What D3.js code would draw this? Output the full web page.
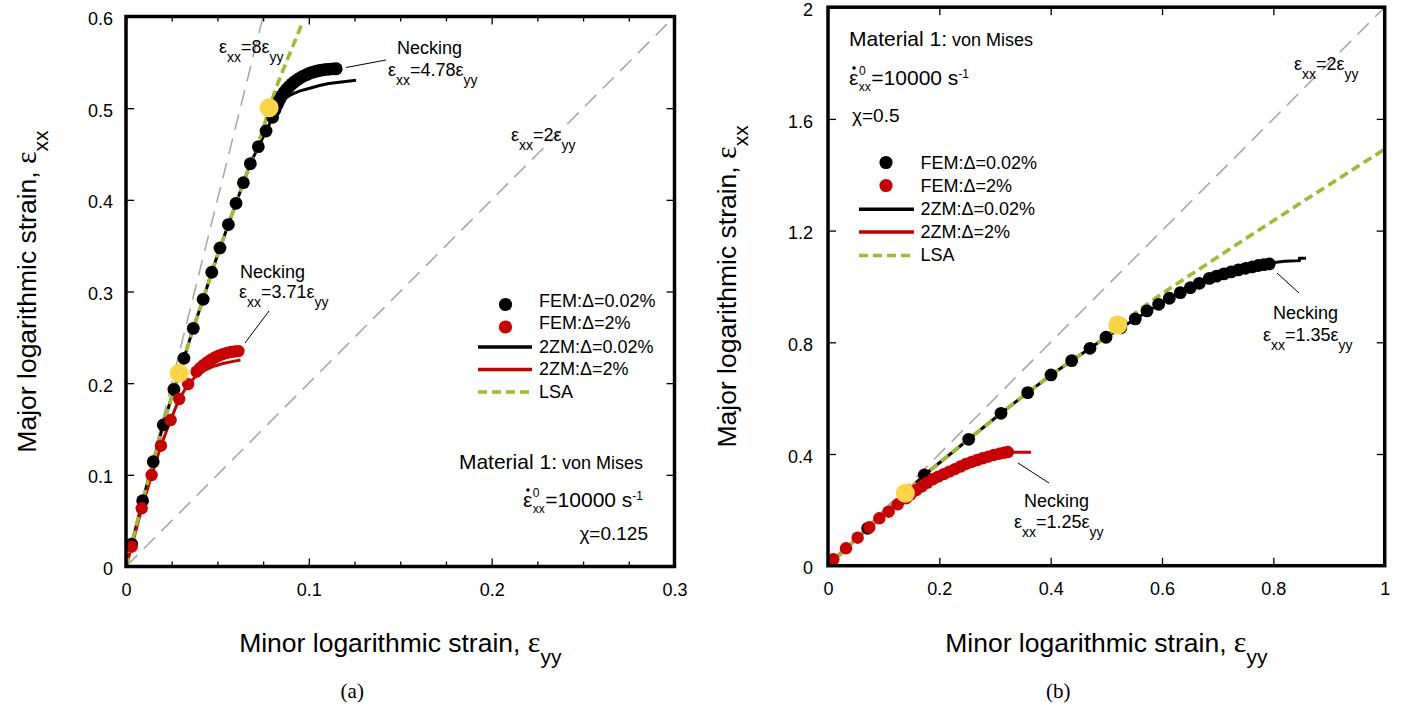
<!DOCTYPE html>
<html><head><meta charset="utf-8">
<script src="https://cdn.jsdelivr.net/npm/d3@7"></script>
<style>
body{margin:0;background:#fff}
text{font-family:"Liberation Sans",Arial,sans-serif;fill:#000}
</style>
</head><body>
<svg id="c" width="1413" height="708"></svg>
<script>
// ---------------- DATA ----------------
// Panel (a): chi = 0.125
const aXTicks = [0, 0.1, 0.2, 0.3];
const aXMinor = [0.025, 0.05, 0.075, 0.125, 0.15, 0.175, 0.225, 0.25, 0.275];
const aYTicks = [0, 0.1, 0.2, 0.3, 0.4, 0.5, 0.6];
const aFEM1 = [[0.0031,0.0245],[0.0091,0.0718],[0.0149,0.1143],[0.0204,0.1544],[0.0262,0.1933],[0.0290,0.2105],[0.0317,0.2271],[0.0368,0.2598],[0.0422,0.2915],[0.0469,0.3210],[0.0514,0.3475],[0.0560,0.3730],[0.0602,0.3962],[0.0642,0.4187],[0.0680,0.4395],[0.0724,0.4580],[0.0766,0.4751],[0.0802,0.4901],[0.0815,0.498],[0.0828,0.504],[0.0840,0.509],[0.0852,0.5135],[0.0865,0.5172],[0.0878,0.5205],[0.0892,0.5235],[0.0906,0.5262],[0.0921,0.5287],[0.0937,0.531],[0.0953,0.5331],[0.0970,0.535],[0.0987,0.5366],[0.1004,0.5381],[0.1022,0.5393],[0.1040,0.5403],[0.1058,0.5411],[0.1077,0.5418],[0.1096,0.5423],[0.1115,0.5427],[0.1134,0.5429],[0.1150,0.5430]];
const aFEM2 = [[0.0031,0.0216],[0.0086,0.0635],[0.0140,0.0998],[0.0191,0.1318],[0.0244,0.1598],[0.0291,0.1827],[0.0340,0.1990],[0.0386,0.2125],[0.0405,0.2165],[0.0425,0.2200],[0.0445,0.2230],[0.0466,0.2257],[0.0487,0.2280],[0.0508,0.2300],[0.0530,0.2317],[0.0552,0.2330],[0.0574,0.2340],[0.0596,0.2346],[0.0615,0.2350]];
const a2ZM1 = [[0,0],[0.0031,0.0245],[0.0091,0.0718],[0.0149,0.1143],[0.0204,0.1544],[0.0262,0.1933],[0.0317,0.2271],[0.0368,0.2598],[0.0422,0.2915],[0.0469,0.3210],[0.0514,0.3475],[0.0560,0.3730],[0.0602,0.3962],[0.0642,0.4187],[0.0680,0.4395],[0.0724,0.4580],[0.0766,0.4751],[0.0802,0.4901],[0.0830,0.5010],[0.0857,0.5090],[0.0900,0.5145],[0.0948,0.5186],[0.1000,0.5215],[0.1058,0.5248],[0.1110,0.5268],[0.1167,0.5283],[0.1258,0.5305]];
const a2ZM2 = [[0,0],[0.0031,0.0216],[0.0086,0.0635],[0.0140,0.0998],[0.0191,0.1318],[0.0244,0.1598],[0.0291,0.1827],[0.0340,0.1990],[0.0386,0.2085],[0.0430,0.2140],[0.0480,0.2185],[0.0530,0.2215],[0.0580,0.2235],[0.0626,0.2253]];
const aLSA = [[0,0],[0.0031,0.0245],[0.0091,0.0718],[0.0149,0.1143],[0.0204,0.1544],[0.0262,0.1933],[0.0317,0.2271],[0.0368,0.2598],[0.0422,0.2915],[0.0469,0.3210],[0.0514,0.3475],[0.0560,0.3730],[0.0602,0.3962],[0.0642,0.4187],[0.0680,0.4395],[0.0746,0.4743],[0.0783,0.5000],[0.0828,0.5260],[0.0884,0.5540],[0.0930,0.5760],[0.0968,0.5950]];
const aNeck = [[0.0291,0.2108],[0.0783,0.5005]];
const aGuides = [[[0,0],[0.075,0.6]], [[0,0],[0.3,0.6]]];

// Panel (b): chi = 0.5
const bXTicks = [0, 0.2, 0.4, 0.6, 0.8, 1];
const bYTicks = [0, 0.4, 0.8, 1.2, 1.6, 2];
const bFEM1 = [[0.0713,0.1339],[0.1730,0.3249],[0.2527,0.4527],[0.3108,0.5458],[0.3587,0.6197],[0.4006,0.6830],[0.4377,0.7343],[0.4706,0.7786],[0.4994,0.8180],[0.5260,0.8520],[0.5520,0.8836],[0.5730,0.9122],[0.5940,0.9360],[0.6131,0.9577],[0.6329,0.9778],[0.6508,0.9957],[0.6670,1.0113],[0.6850,1.0290],[0.6980,1.0370],[0.7110,1.0450],[0.7240,1.0520],[0.7370,1.0590],[0.7500,1.0650],[0.7620,1.0700],[0.7730,1.0750],[0.7830,1.0780],[0.7927,1.0806]];
const bFEM2 = [[0.0096,0.0229],[0.0323,0.0623],[0.0533,0.1003],[0.0742,0.1375],[0.0922,0.1697],[0.1090,0.1934],[0.1252,0.2199],[0.1401,0.2414],[0.1480,0.2545],[0.1580,0.2700],[0.1680,0.2830],[0.1780,0.2965],[0.1880,0.3095],[0.1980,0.3190],[0.2080,0.3280],[0.2180,0.3368],[0.2280,0.3460],[0.2380,0.3550],[0.2480,0.3644],[0.2580,0.3715],[0.2680,0.3785],[0.2780,0.3848],[0.2880,0.3905],[0.2980,0.3965],[0.3080,0.4010],[0.3160,0.4045],[0.3230,0.4070]];
const b2ZM1 = [[0,0],[0.0713,0.1339],[0.1730,0.3249],[0.2527,0.4527],[0.3108,0.5458],[0.3587,0.6197],[0.4006,0.6830],[0.4377,0.7343],[0.4706,0.7786],[0.4994,0.8180],[0.5520,0.8836],[0.6131,0.9577],[0.6670,1.0113],[0.7240,1.0520],[0.7700,1.0740],[0.7927,1.0840],[0.8200,1.0900],[0.8466,1.0924],[0.8470,1.1010],[0.8586,1.1010]];
const b2ZM2 = [[0,0],[0.0096,0.0229],[0.0323,0.0623],[0.0533,0.1003],[0.0742,0.1375],[0.0922,0.1697],[0.1090,0.1934],[0.1252,0.2199],[0.1401,0.2414],[0.1680,0.2830],[0.1980,0.3190],[0.2280,0.3460],[0.2580,0.3715],[0.2880,0.3905],[0.3160,0.4045],[0.3300,0.4060],[0.3646,0.4062]];
const bLSA = [[0,0],[0.0713,0.1339],[0.1730,0.3249],[0.2527,0.4527],[0.3108,0.5458],[0.3587,0.6197],[0.4006,0.6830],[0.4377,0.7343],[0.4706,0.7786],[0.4994,0.8200],[0.5204,0.8560],[0.5600,0.9180],[0.6010,0.9756],[0.6418,1.0290],[0.7419,1.1605],[0.8500,1.3000],[0.9865,1.4746],[1.0,1.4920]];
const bNeck = [[0.1389,0.2593],[0.5204,0.8620]];
const bGuides = [[[0,0],[1,2]]];

const legendLabels = ["FEM:\u0394=0.02%", "FEM:\u0394=2%", "2ZM:\u0394=0.02%", "2ZM:\u0394=2%", "LSA"];

// ---------------- STYLES ----------------
const C = {black:"#000", red:"#c80000", green:"#9bbd2e", yellow:"#fcd444", gray:"#a8a8a8"};
const SERIF = '"Liberation Serif","DejaVu Serif",serif';
const svg = d3.select("#c");

function rich(g, x, y, parts, size, anchor) {
  const t = g.append("text").attr("x", x).attr("y", y)
    .attr("font-size", size || 18).attr("text-anchor", anchor || "start");
  let off = 0;
  parts.forEach(p => {
    const [s, kind, sz, sh, fam, dx] = p;
    const target = kind === "sub" ? (sh || 9) : kind === "sup" ? -(sh || 8) : 0;
    const ts = t.append("tspan").attr("dy", target - off).text(s);
    if (sz) ts.attr("font-size", sz);
    if (fam) ts.style("font-family", fam);
    if (dx) ts.attr("dx", dx);
    off = target;
  });
  return t;
}
function epsLabel(g, x, y, mid) {
  return rich(g, x, y, [["\u03b5"], ["xx","sub",14,9], ["=" + mid + "\u03b5"], ["yy","sub",14,9]], 18);
}
// strain-rate label: eps with dot, superscript 0 stacked over subscript xx
function rateLabel(g, x, y, anchor) {
  const t = rich(g, x, y, [
    ["\u03b5"],
    ["0","sup",12,10,null,0.5],
    ["xx","sub",12,6,null,-6.7],
    ["=10000 s","n",null,0,null,0.5],
    ["-1","sup",12,7]
  ], 21, anchor);
  const p = t.node().getStartPositionOfChar(0);
  g.append("circle").attr("cx", p.x + 5).attr("cy", y - 17).attr("r", 1.8).attr("fill", "#000");
  return t;
}

function panel(cfg) {
  const x = d3.scaleLinear().domain(cfg.xd).range(cfg.xr);
  const y = d3.scaleLinear().domain(cfg.yd).range(cfg.yr);
  const g = svg.append("g");
  const clipId = "clip" + cfg.id;
  svg.append("clipPath").attr("id", clipId).append("rect")
    .attr("x", cfg.xr[0]).attr("y", cfg.yr[1]).attr("width", cfg.xr[1]-cfg.xr[0]).attr("height", cfg.yr[0]-cfg.yr[1]);
  const line = d3.line().x(d => x(d[0])).y(d => y(d[1]));
  const plot = g.append("g").attr("clip-path", `url(#${clipId})`);

  cfg.guides.forEach(gd => plot.append("path").attr("d", line(gd)).attr("fill","none")
    .attr("stroke", C.gray).attr("stroke-width", 1.6).attr("stroke-dasharray", "16,9"));
  plot.append("path").attr("d", line(cfg.zm1)).attr("fill","none").attr("stroke", C.black).attr("stroke-width", 3);
  plot.append("path").attr("d", line(cfg.zm2)).attr("fill","none").attr("stroke", C.red).attr("stroke-width", 3);
  plot.append("path").attr("d", line(cfg.lsa)).attr("fill","none").attr("stroke", C.green)
    .attr("stroke-width", 3.6).attr("stroke-dasharray", "9,5");
  plot.selectAll(null).data(cfg.fem1).join("circle").attr("cx", d => x(d[0])).attr("cy", d => y(d[1]))
    .attr("r", 6.4).attr("fill", C.black);
  plot.selectAll(null).data(cfg.fem2).join("circle").attr("cx", d => x(d[0])).attr("cy", d => y(d[1]))
    .attr("r", 6.2).attr("fill", C.red);
  plot.selectAll(null).data(cfg.neck).join("circle").attr("cx", d => x(d[0])).attr("cy", d => y(d[1]))
    .attr("r", 9.5).attr("fill", C.yellow);

  // axes (inward ticks on all sides)
  const H = cfg.yr[0], T = cfg.yr[1], L = cfg.xr[0], R = cfg.xr[1];
  const fmt = d => String(d);
  const axG = (sel) => { sel.select(".domain").remove(); sel.selectAll("line").attr("stroke","#000").attr("stroke-width",1.3);
    sel.selectAll("text").attr("font-size", 18).style("font-family", '"Liberation Sans",Arial,sans-serif').attr("fill","#000"); };
  g.append("g").attr("transform", `translate(0,${H})`)
    .call(d3.axisBottom(x).tickValues(cfg.xt).tickSizeInner(-8).tickSizeOuter(0).tickPadding(17).tickFormat(fmt)).call(axG);
  g.append("g").attr("transform", `translate(0,${T})`)
    .call(d3.axisTop(x).tickValues(cfg.xt).tickSizeInner(-8).tickSizeOuter(0).tickFormat("")).call(axG);
  if (cfg.xm) {
    g.append("g").attr("transform", `translate(0,${H})`)
      .call(d3.axisBottom(x).tickValues(cfg.xm).tickSizeInner(-5).tickSizeOuter(0).tickFormat("")).call(axG);
    g.append("g").attr("transform", `translate(0,${T})`)
      .call(d3.axisTop(x).tickValues(cfg.xm).tickSizeInner(-5).tickSizeOuter(0).tickFormat("")).call(axG);
  }
  g.append("g").attr("transform", `translate(${L},0)`)
    .call(d3.axisLeft(y).tickValues(cfg.yt).tickSizeInner(-8).tickSizeOuter(0).tickPadding(cfg.ypad).tickFormat(fmt)).call(axG)
    .selectAll("text").attr("dy", "0.45em");
  g.append("g").attr("transform", `translate(${R},0)`)
    .call(d3.axisRight(y).tickValues(cfg.yt).tickSizeInner(-8).tickSizeOuter(0).tickFormat("")).call(axG);
  g.append("rect").attr("x", L).attr("y", T).attr("width", R-L).attr("height", H-T)
    .attr("fill","none").attr("stroke","#000").attr("stroke-width", 3.5);

  // axis titles
  const cx = (L+R)/2, cy = (T+H)/2;
  rich(g, cx, 652, [["Minor logarithmic strain, "], ["\u03b5","n",30,0,SERIF], ["yy","sub",21,12]], 26.5, "middle");
  rich(g, 0, 0, [["Major logarithmic strain, "], ["\u03b5","n",30,0,SERIF], ["xx","sub",21,12]], 26.5, "middle")
    .attr("transform", `translate(${cfg.ylabX},${cy}) rotate(-90)`);
  g.append("text").attr("x", cx - 48).attr("y", 698).attr("text-anchor","middle").attr("font-size", 21)
    .style("font-family", SERIF).text(cfg.tag);

  // legend
  const lg = cfg.legend;
  legendLabels.forEach((lab, i) => {
    g.append("text").attr("x", lg.tx).attr("y", lg.rows[i] + 6.5).attr("font-size", 18).text(lab);
  });
  g.append("circle").attr("cx", lg.dx).attr("cy", lg.rows[0] + lg.doff).attr("r", 6.6).attr("fill", C.black);
  g.append("circle").attr("cx", lg.dx).attr("cy", lg.rows[1] + lg.doff).attr("r", 6.6).attr("fill", C.red);
  g.append("line").attr("x1", lg.lx[0]).attr("x2", lg.lx[1]).attr("y1", lg.rows[2]+1).attr("y2", lg.rows[2]+1).attr("stroke", C.black).attr("stroke-width", 3.5);
  g.append("line").attr("x1", lg.lx[0]).attr("x2", lg.lx[1]).attr("y1", lg.rows[3]+1).attr("y2", lg.rows[3]+1).attr("stroke", C.red).attr("stroke-width", 3.5);
  g.append("line").attr("x1", lg.lx[0]).attr("x2", lg.lx[1]).attr("y1", lg.rows[4]+1).attr("y2", lg.rows[4]+1).attr("stroke", C.green).attr("stroke-width", 3.6).attr("stroke-dasharray","9,5");
  return g;
}

// ---------------- PANEL (a) ----------------
const gA = panel({id:"a", xd:[0,0.3], xr:[126,674.5], yd:[0,0.6], yr:[566.5,16.5],
  xt:aXTicks, xm:aXMinor, yt:aYTicks, ypad:13, ylabX:36, tag:"(a)",
  fem1:aFEM1, fem2:aFEM2, zm1:a2ZM1, zm2:a2ZM2, lsa:aLSA, neck:aNeck, guides:aGuides,
  legend:{rows:[300,322.5,346,368.5,391], tx:539, dx:505.5, doff:4.5, lx:[478,532]}});
epsLabel(gA, 219, 53, "8");
epsLabel(gA, 511, 141, "2");
gA.append("text").attr("x", 397).attr("y", 54).attr("font-size", 18).text("Necking");
epsLabel(gA, 388, 76, "4.78");
gA.append("line").attr("x1", 346).attr("y1", 67.5).attr("x2", 386).attr("y2", 60).attr("stroke","#000").attr("stroke-width",1);
gA.append("text").attr("x", 240).attr("y", 278).attr("font-size", 18).text("Necking");
epsLabel(gA, 239, 298, "3.71");
gA.append("line").attr("x1", 269).attr("y1", 311).attr("x2", 245).attr("y2", 343).attr("stroke","#000").attr("stroke-width",1);
rich(gA, 643, 469, [["Material 1:"], [" von Mises","n",18]], 21, "end");
rateLabel(gA, 643, 507, "end");
gA.append("text").attr("x", 648).attr("y", 540).attr("font-size", 19).attr("text-anchor","end").text("\u03c7=0.125");

// ---------------- PANEL (b) ----------------
const gB = panel({id:"b", xd:[0,1], xr:[828,1384.7], yd:[0,2], yr:[565.7,7.2],
  xt:bXTicks, xm:null, yt:bYTicks, ypad:15, ylabX:736, tag:"(b)",
  fem1:bFEM1, fem2:bFEM2, zm1:b2ZM1, zm2:b2ZM2, lsa:bLSA, neck:bNeck, guides:bGuides,
  legend:{rows:[162,185,208.3,231,254.5], tx:920.5, dx:886, doff:0.5, lx:[859,914]}});
rich(gB, 849, 46, [["Material 1:"], [" von Mises","n",18]], 21, "start");
rateLabel(gB, 849, 85, "start");
gB.append("text").attr("x", 852).attr("y", 122).attr("font-size", 19).text("\u03c7=0.5");
epsLabel(gB, 1294, 70, "2");
gB.append("text").attr("x", 1273).attr("y", 319).attr("font-size", 18).text("Necking");
epsLabel(gB, 1263, 341, "1.35");
gB.append("line").attr("x1", 1277).attr("y1", 273).attr("x2", 1299).attr("y2", 293).attr("stroke","#000").attr("stroke-width",1);
gB.append("text").attr("x", 1024).attr("y", 507).attr("font-size", 18).text("Necking");
epsLabel(gB, 1014, 528, "1.25");
gB.append("line").attr("x1", 1018).attr("y1", 463).attr("x2", 1049).attr("y2", 483).attr("stroke","#000").attr("stroke-width",1);
</script>
</body></html>
